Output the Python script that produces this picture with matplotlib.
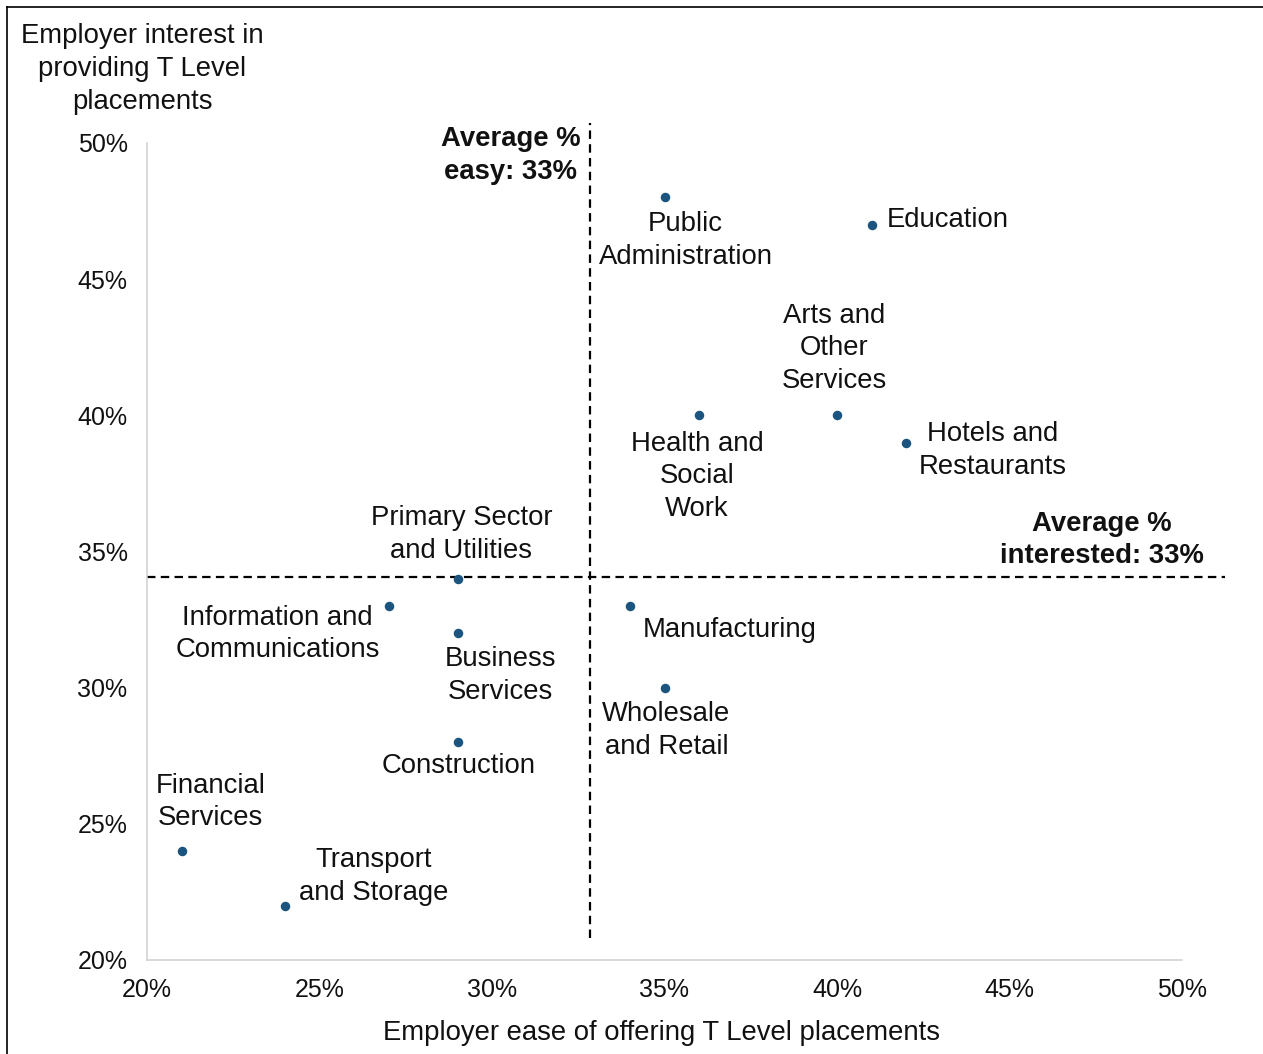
import matplotlib.pyplot as plt
from matplotlib.ticker import FuncFormatter
from matplotlib.lines import Line2D

plt.rcParams['font.family'] = ['Liberation Sans', 'DejaVu Sans']

# sectors, ease (x, %) and interest (y, %)
sectors = ["Public\nAdministration", "Education", "Arts and\nOther\nServices",
           "Health and\nSocial\nWork", "Hotels and\nRestaurants",
           "Primary Sector\nand Utilities", "Information and\nCommunications",
           "Business\nServices", "Manufacturing", "Wholesale\nand Retail",
           "Construction", "Financial\nServices", "Transport\nand Storage"]
ease = [35, 41, 40, 36, 42, 29, 27, 29, 34, 35, 29, 21, 24]
interest = [48, 47, 40, 40, 39, 34, 33, 32, 33, 30, 28, 24, 22]

avg_ease = 32.85
avg_interest = 34.05

# label offsets in pixels from each dot
offsets = [(21, -43), (15, 5), (-3, 67), (-2, -61), (87, -8), (4, 44),
           (-111, -28), (43, -42), (100, -24), (2, -43), (1, -24),
           (29, 49), (89, 29)]
aligns = ["center", "left"] + ["center"] * 11

FS = 19.8
LS = 1.34
TXT = "#111111"

fig = plt.figure(figsize=(12.63, 10.54), dpi=100)
ax = fig.add_axes([147/1263, 1 - 960/1054, (1182-147)/1263, (960-143)/1054])

ax.scatter(ease, interest, s=34, color="#1b557f", zorder=3)

for name, x, y, off, ha in zip(sectors, ease, interest, offsets, aligns):
    ax.annotate(name, (x, y), xytext=off, textcoords="offset pixels",
                ha=ha, va="center", fontsize=FS, color=TXT, linespacing=LS)

ax.set_xlim(20, 50)
ax.set_ylim(20, 50)
ax.set_xticks([20, 25, 30, 35, 40, 45, 50])
ax.set_yticks([20, 25, 30, 35, 40, 45, 50])
pct = FuncFormatter(lambda v, p: f"{v:.0f}%")
ax.xaxis.set_major_formatter(pct)
ax.yaxis.set_major_formatter(pct)
ax.tick_params(axis="both", length=0, labelsize=18, colors=TXT)
ax.tick_params(axis="x", pad=13)
ax.tick_params(axis="y", pad=14)

for s in ["top", "right"]:
    ax.spines[s].set_visible(False)
for s in ["left", "bottom"]:
    ax.spines[s].set_color("#d0d0d0")
    ax.spines[s].set_linewidth(1.1)

# average lines
ax.plot([avg_ease, avg_ease], [20.8, 50.75], color="black", lw=1.6,
        dashes=(3.8, 2.4), clip_on=False, zorder=2)
ax.plot([20, 51.25], [avg_interest, avg_interest], color="black", lw=1.6,
        dashes=(3.8, 2.4), clip_on=False, zorder=2)

ax.text(30.55, 49.53, "Average %\neasy: 33%", ha="center", va="center",
        fontsize=FS, fontweight="bold", color=TXT, linespacing=LS)
ax.text(47.68, 35.42, "Average %\ninterested: 33%", ha="center", va="center",
        fontsize=FS, fontweight="bold", color=TXT, linespacing=LS)

ax.set_xlabel("Employer ease of offering T Level placements", fontsize=FS,
              color=TXT, labelpad=13)
ax.xaxis.label.set_x(0.497)
fig.text(142/1263, 1 - 69/1054, "Employer interest in\nproviding T Level\nplacements",
         ha="center", va="center", fontsize=FS, color=TXT, linespacing=LS)

# frame on left and top edges
fig.add_artist(Line2D([7/1263, 7/1263], [0, 1 - 7/1054], color="black", lw=1.2,
                      transform=fig.transFigure))
fig.add_artist(Line2D([7/1263, 1], [1 - 7/1054, 1 - 7/1054], color="black", lw=1.2,
                      transform=fig.transFigure))

fig.savefig("out.png", dpi=100)
